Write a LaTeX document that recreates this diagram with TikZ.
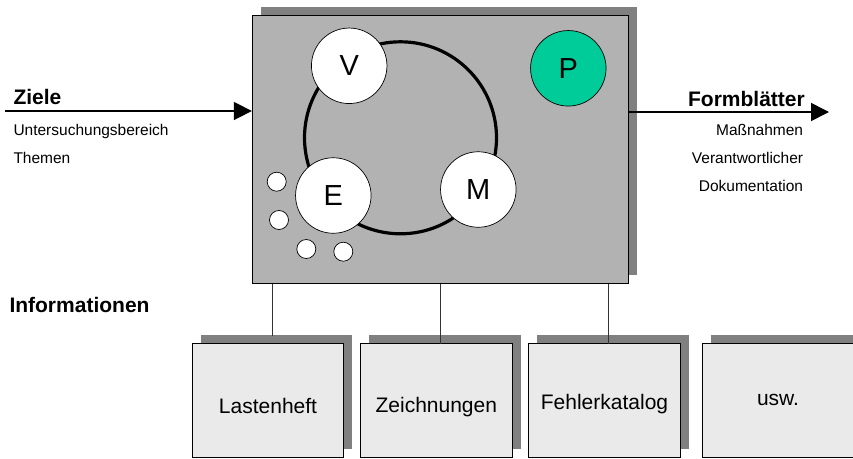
\documentclass[tikz,border=0pt]{standalone}
\usepackage{fontspec}
\setmainfont{Liberation Sans}
\usetikzlibrary{arrows.meta,shadows}

\definecolor{panelgray}{HTML}{B2B2B2}
\definecolor{shadowgray}{HTML}{808080}
\definecolor{sheetgray}{HTML}{EAEAEA}
\definecolor{phasegreen}{HTML}{00CC99}

\tikzset{
  x=1pt, y=-1pt,
  panel/.style={draw=black, line width=0.9pt, fill=panelgray, rectangle,
    minimum width=376pt, minimum height=268pt, inner sep=0pt,
    drop shadow={shadow xshift=8.5pt, shadow yshift=8.5pt, fill=shadowgray, opacity=1}},
  sheet/.style={draw=black, line width=0.9pt, fill=sheetgray, rectangle,
    minimum width=151.5pt, minimum height=114pt, inner sep=0pt,
    drop shadow={shadow xshift=8.5pt, shadow yshift=8.5pt, fill=shadowgray, opacity=1}},
  ring/.style={draw=black, line width=3.2pt, circle, minimum size=192pt, inner sep=0pt},
  phase/.style={draw=black, line width=0.7pt, fill=white, circle, minimum size=75.5pt,
    inner sep=0pt, font=\fontsize{29}{34}\selectfont},
  dot/.style={draw=black, line width=0.7pt, fill=white, circle, minimum size=19pt, inner sep=0pt},
  heading/.style={inner sep=0pt, font=\fontsize{21}{25}\selectfont\bfseries},
  note/.style={inner sep=0pt, font=\fontsize{15.5}{18}\selectfont},
  sheetlabel/.style={inner sep=0pt, anchor=base, font=\fontsize{21}{25}\selectfont},
  flow/.style={line width=1.6pt, -{Triangle[length=18pt,width=18pt]}},
  link/.style={draw=black!80, line width=0.8pt}
}

\begin{document}
\begin{tikzpicture}
\useasboundingbox (0,0) rectangle (853,458);

% central panel with the improvement cycle
\node[panel] (main) at (440.3,149.9) {};
\node[ring] (cycle) at (400.5,137.8) {};
\node[phase] (V) at (349.2,65.8) {V};
\node[phase] (E) at (333.3,195.5) {E};
\node[phase] (M) at (478.3,189.5) {M};
\node[phase, fill=phasegreen] (P) at (568.3,68.3) {P};
\node[dot] (d1) at (276.7,181.7) {};
\node[dot] (d2) at (279,220) {};
\node[dot] (d3) at (306.3,249) {};
\node[dot] (d4) at (343.3,251.7) {};

% input side
\coordinate (zin) at (5,111);
\draw[flow] (zin) -- (zin -| main.west);
\node[heading, anchor=base west] (ziele) at (13.3,104) {Ziele};
\node[note, anchor=base west] (unters) at (13.3,135) {Untersuchungsbereich};
\node[note, anchor=base west] (themen) at (13.3,163.3) {Themen};

% output side
\coordinate (fout) at (829,112);
\draw[flow] (fout -| main.east) -- (fout);
\node[heading, anchor=base east] (form) at (805,106) {Formblätter};
\node[note, anchor=base east] (mass) at (803.3,135) {Maßnahmen};
\node[note, anchor=base east] (verant) at (803.3,163.3) {Verantwortlicher};
\node[note, anchor=base east] (doku) at (803.3,191) {Dokumentation};

% information sources
\node[heading, anchor=base west] (info) at (9.3,312.3) {Informationen};
\node[sheet] (b1) at (268,400.5) {};
\node[sheet] (b2) at (436.3,400.5) {};
\node[sheet] (b3) at (604.5,400.5) {};
\node[sheet] (b4) at (778,400.5) {};
\node[sheetlabel] (t1) at (268,413.5) {Lastenheft};
\node[sheetlabel] (t2) at (436.3,412) {Zeichnungen};
\node[sheetlabel] (t3) at (604.5,409.5) {Fehlerkatalog};
\node[sheetlabel] (t4) at (778,405.5) {usw.};

\coordinate (c1) at (272.5,335.5);
\coordinate (c2) at (440.3,343.5);
\coordinate (c3) at (608.5,343.5);
\draw[link] (main.south -| c1) -- (c1);
\draw[link] (main.south -| c2) -- (c2);
\draw[link] (main.south -| c3) -- (c3);
\end{tikzpicture}
\end{document}
